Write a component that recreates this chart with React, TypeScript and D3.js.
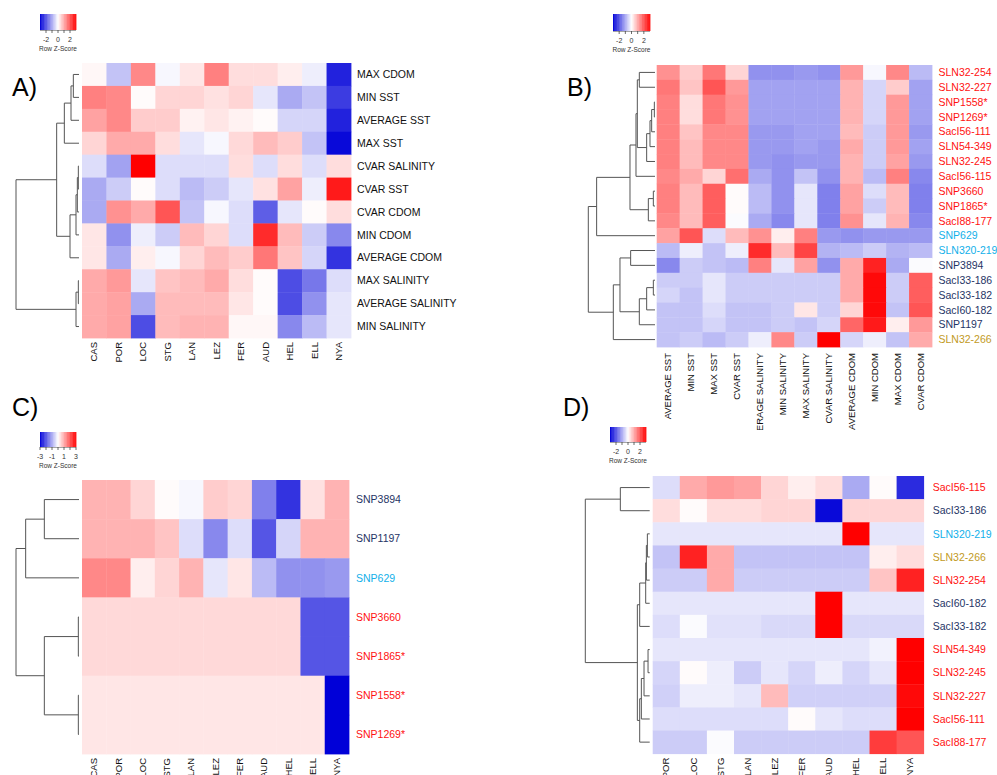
import React from "react";
import * as d3 from "d3";

const FONT = "'Liberation Sans', Arial, Helvetica, sans-serif";

// ---------- Panel A ----------
const colsA = ["CAS", "POR", "LOC", "STG", "LAN", "LEZ", "FER", "AUD", "HEL", "ELL", "NYA"];
const rowsA = ["MAX CDOM", "MIN SST", "AVERAGE SST", "MAX SST", "CVAR SALINITY", "CVAR SST", "CVAR CDOM", "MIN CDOM", "AVERAGE CDOM", "MAX SALINITY", "AVERAGE SALINITY", "MIN SALINITY"];
const valsA = [
  [0.1, -0.7, 1.4, -0.1, 0.3, 1.5, 0.4, 0.4, 0.2, -0.2, -2.6],
  [1.5, 1.4, 0.05, 0.5, 0.5, 0.35, 0.5, -0.3, -1.0, -0.7, -2.3],
  [1.1, 1.4, 0.6, 0.6, 0.15, 0.3, 0.15, 0.05, -0.5, -0.5, -2.6],
  [0.5, 1.0, 1.0, 0.4, -0.3, -0.1, 0.45, 0.8, 0.6, -0.7, -2.9],
  [-0.4, -1.1, 3.0, -0.4, -0.4, -0.4, 0.4, -0.4, 0.4, -0.4, 0.4],
  [-1.0, -0.6, 0.05, -0.4, -0.8, -0.6, -0.3, 0.35, 1.1, -0.2, 2.7],
  [-1.0, 1.3, 1.0, 2.0, -0.7, -0.1, -0.4, -1.9, -0.3, 0.05, 0.4],
  [0.3, -1.3, -0.2, -0.6, 0.8, 0.5, -0.4, 2.5, 0.8, -0.6, -1.4],
  [0.3, -1.0, 0.2, -0.1, 0.5, 0.8, 0.6, 1.6, 0.7, -0.5, -2.4],
  [1.0, 1.2, -0.3, 0.7, 0.8, 1.0, 0.4, 0.05, -2.1, -1.6, -0.4],
  [1.0, 1.1, -1.0, 0.8, 0.8, 0.8, 0.3, 0.05, -2.1, -1.3, -0.3],
  [1.0, 1.1, -2.1, 0.8, 0.9, 0.9, 0.1, 0.1, -1.4, -0.8, -0.3],
];
const groupsA = ["k", "k", "k", "k", "k", "k", "k", "k", "k", "k", "k", "k"];
const treeA: any = [189, [67, [44, [24, [17, 0, 1], 2], 3], [27, [9, [5, [2, 4, 5], 6], 7], 8]], [9, [2, 9, 10], 11]];

// ---------- Panel B ----------
const colsB = ["AVERAGE SST", "MIN SST", "MAX SST", "CVAR SST", "AVERAGE SALINITY", "MIN SALINITY", "MAX SALINITY", "CVAR SALINITY", "AVERAGE CDOM", "MIN CDOM", "MAX CDOM", "CVAR CDOM"];
const rowsB = ["SLN32-254", "SLN32-227", "SNP1558*", "SNP1269*", "SacI56-111", "SLN54-349", "SLN32-245", "SacI56-115", "SNP3660", "SNP1865*", "SacI88-177", "SNP629", "SLN320-219", "SNP3894", "SacI33-186", "SacI33-182", "SacI60-182", "SNP1197", "SLN32-266"];
const valsB = [
  [1.3, 0.6, 1.6, 0.5, -1.3, -1.3, -1.2, -1.3, 1.2, -0.1, 1.4, -0.8],
  [1.6, 0.7, 2.0, 1.2, -1.1, -1.1, -1.1, -1.1, 0.9, -0.5, 0.6, -1.1],
  [1.5, 0.4, 1.6, 1.3, -1.1, -1.1, -1.1, -1.1, 0.9, -0.5, 1.2, -1.1],
  [1.5, 0.4, 1.6, 1.3, -1.1, -1.1, -1.1, -1.1, 0.9, -0.5, 1.2, -1.1],
  [1.5, 0.7, 1.4, 1.4, -1.2, -1.2, -1.1, -1.1, 0.8, -0.6, 1.2, -1.2],
  [1.5, 0.8, 1.4, 1.4, -1.2, -1.2, -1.1, -1.2, 1.0, -0.6, 1.2, -1.1],
  [1.5, 0.8, 1.4, 1.4, -1.2, -1.3, -1.2, -1.2, 0.9, -0.6, 1.1, -1.2],
  [1.4, 1.0, 0.5, 1.7, -1.0, -1.3, -0.7, -1.3, 0.9, -0.8, 1.5, -1.4],
  [1.5, 0.8, 1.9, 0.05, -0.8, -1.3, -0.3, -1.5, 1.1, -0.4, 0.8, -1.5],
  [1.5, 0.8, 1.9, 0.05, -0.8, -1.3, -0.3, -1.5, 1.1, -0.6, 0.8, -1.5],
  [1.4, 0.8, 1.9, -0.05, -1.0, -1.4, -0.3, -1.5, 1.3, -0.3, 0.9, -1.4],
  [1.1, 2.0, -0.4, 0.8, 1.3, 0.2, 1.5, -1.2, -1.3, -1.2, -1.2, -1.2],
  [-0.8, -0.2, -0.7, -0.2, 2.5, 0.8, 2.2, -0.9, -0.8, -0.6, -0.9, -0.8],
  [-1.4, -0.6, -0.7, -0.8, 1.5, -0.3, 1.1, -1.3, 1.0, 2.6, -1.0, -0.05],
  [-0.6, -0.6, -0.3, -0.6, -0.6, -0.6, -0.6, -0.6, 1.0, 2.9, -0.6, 1.9],
  [-0.5, -0.7, -0.3, -0.6, -0.6, -0.6, -0.6, -0.6, 1.0, 2.9, -0.6, 1.9],
  [-0.7, -0.7, -0.4, -0.7, -0.7, -0.6, 0.3, -0.6, 0.5, 2.9, -0.7, 2.0],
  [-0.7, -0.7, -0.5, -0.7, -0.7, -0.6, -0.7, -0.5, 1.8, 2.7, 0.2, 1.2],
  [-0.7, -0.6, -0.8, -0.6, -0.2, 1.4, -0.6, 3.0, -0.5, -0.2, -0.7, 1.0],
];
const groupsB = ["r", "r", "r", "r", "r", "r", "r", "r", "r", "r", "r", "s", "s", "n", "n", "n", "n", "n", "g"];
const treeB: any = [200,
  [175, [75, [57, [53, [47, 0, 1], [25, [15, [10, [2, 2, 3], 4], 5], 6]], 7], [20, [5, 8, 9], 10]], 11],
  [125, [105, [73, 12, 13], [47, [25, [5, 14, 15], 16], 17]], 18]];

// ---------- Panel C ----------
const colsC = ["CAS", "POR", "LOC", "STG", "LAN", "LEZ", "FER", "AUD", "HEL", "ELL", "NYA"];
const rowsC = ["SNP3894", "SNP1197", "SNP629", "SNP3660", "SNP1865*", "SNP1558*", "SNP1269*"];
const valsC = [
  [0.9, 0.9, 0.5, 0.05, -0.1, 0.6, 0.5, -1.5, -2.4, 0.35, 0.9],
  [0.9, 0.9, 0.9, 0.7, -0.4, -1.4, -0.4, -2.0, -0.5, 0.9, 0.9],
  [1.4, 1.4, 0.2, 0.5, 0.9, -0.3, 0.3, -0.8, -1.3, -1.3, -1.2],
  [0.45, 0.45, 0.45, 0.45, 0.45, 0.45, 0.45, 0.45, 0.45, -2.0, -2.0],
  [0.45, 0.45, 0.45, 0.45, 0.45, 0.45, 0.45, 0.45, 0.45, -2.0, -2.0],
  [0.3, 0.3, 0.3, 0.3, 0.3, 0.3, 0.3, 0.3, 0.3, 0.3, -3.0],
  [0.3, 0.3, 0.3, 0.3, 0.3, 0.3, 0.3, 0.3, 0.3, 0.3, -3.0],
];
const groupsC = ["n", "n", "s", "r", "r", "r", "r"];
const treeC: any = [189, [160, [104, 0, 1], 2], [104, [2, 3, 4], [2, 5, 6]]];

// ---------- Panel D ----------
const colsD = ["POR", "LOC", "STG", "LAN", "LEZ", "FER", "AUD", "HEL", "ELL", "NYA"];
const rowsD = ["SacI56-115", "SacI33-186", "SLN320-219", "SLN32-266", "SLN32-254", "SacI60-182", "SacI33-182", "SLN54-349", "SLN32-245", "SLN32-227", "SacI56-111", "SacI88-177"];
const valsD = [
  [-0.4, 1.0, 1.2, 1.1, 0.5, 0.2, 0.4, -1.0, 0.05, -2.5],
  [0.4, 0.05, 0.4, 0.4, 0.5, 0.5, -2.9, 0.5, 0.5, 0.5],
  [-0.3, -0.3, -0.3, -0.3, -0.3, -0.3, -0.3, 3.0, -0.3, -0.3],
  [-0.7, 2.6, 1.0, -0.7, -0.7, -0.7, -0.7, -0.7, 0.2, 0.4],
  [-0.6, -0.6, 1.0, -0.6, -0.6, -0.6, -0.6, -0.6, 0.7, 2.6],
  [-0.3, -0.3, -0.3, -0.3, -0.3, -0.3, 3.0, -0.3, -0.3, -0.3],
  [-0.4, -0.05, -0.35, -0.35, -0.45, -0.45, 3.0, -0.45, -0.45, -0.45],
  [-0.3, -0.3, -0.3, -0.3, -0.3, -0.3, -0.3, -0.3, -0.15, 3.0],
  [-0.5, 0.05, -0.2, -0.6, -0.3, -0.5, -0.2, -0.5, -0.3, 3.0],
  [-0.55, -0.2, -0.2, -0.3, 0.8, -0.55, -0.55, -0.55, -0.55, 2.9],
  [-0.4, -0.4, -0.4, -0.4, -0.4, 0.05, -0.3, -0.4, -0.4, 3.0],
  [-0.6, -0.6, -0.05, -0.6, -0.6, -0.6, -0.6, -0.6, 2.3, 2.0],
];
const groupsD = ["r", "n", "s", "g", "r", "n", "n", "r", "r", "r", "r", "r"];
const treeD: any = [193, [88, 0, 1], [37, [30, [12, [10, [7, 2, 3], 4], 5], 6], [30, [25, [17, [5, 7, 8], 9], 10], 11]]];

// ---------- Legend ticks ----------
const keyTicks5 = [-2, -1, 0, 1, 2];
const keyLabels5 = [-2, 0, 2];
const keyTicks7 = [-3, -2, -1, 0, 1, 2, 3];
const keyLabels7 = [-3, -1, 1, 3];

const labelColor: Record<string, string> = {
  k: "#111111",
  r: "#ff1111",
  s: "#12b0ea",
  n: "#1f3566",
  g: "#c29a1e",
};

const color = d3
  .scaleLinear<string>()
  .domain([-3, 0, 3])
  .range(["#0000d8", "#ffffff", "#ff0000"])
  .clamp(true);

type Layout = {
  x0: number; x1: number; y0: number; y1: number;
  rootX: number; leafX: number;
  labelGap: number; colGap: number;
  rowFont: number; colFont: number;
  key: { x: number; y: number; w: number; h: number; ticks: number[]; labels: number[] };
  tag: string; tagX: number; tagY: number;
  clipBottom?: number;
};

function Dendro({ tree, yPos, rootH, rootX, leafX }: any) {
  const h = d3.scaleLinear().domain([0, rootH]).range([leafX, rootX]);
  const p = d3.path();
  const walk = (node: any): { x: number; y: number } => {
    if (typeof node === "number") return { x: h(0), y: yPos(node) };
    const [ht, a, b] = node;
    const A = walk(a);
    const B = walk(b);
    const x = h(ht);
    p.moveTo(A.x, A.y);
    p.lineTo(x, A.y);
    p.lineTo(x, B.y);
    p.lineTo(B.x, B.y);
    return { x, y: (A.y + B.y) / 2 };
  };
  walk(tree);
  return <path d={p.toString()} fill="none" stroke="#555" strokeWidth={1} />;
}

function Key({ k }: any) {
  const sx = d3.scaleLinear().domain([-3, 3]).range([k.x, k.x + k.w]);
  const steps = d3.range(-3, 3, 6 / 60);
  return (
    <g>
      {steps.map((v, i) => (
        <rect key={i} x={sx(v)} y={k.y} width={k.w / 60 + 0.4} height={k.h} fill={color(v + 0.05)} />
      ))}
      <line x1={k.x} x2={k.x + k.w} y1={k.y + k.h + 0.5} y2={k.y + k.h + 0.5} stroke="#666" strokeWidth={0.6} />
      {k.ticks.map((t: number) => (
        <line key={t} x1={sx(t)} x2={sx(t)} y1={k.y + k.h} y2={k.y + k.h + 3} stroke="#444" strokeWidth={0.8} />
      ))}
      {k.labels.map((t: number) => (
        <text key={t} x={sx(t)} y={k.y + k.h + 12} fontSize={7} textAnchor="middle" fill="#333" fontFamily={FONT}>
          {t}
        </text>
      ))}
      <text x={k.x + k.w / 2} y={k.y + k.h + 21} fontSize={6.5} textAnchor="middle" fill="#333" fontFamily={FONT}>
        Row Z-Score
      </text>
    </g>
  );
}

function Heatmap({ id, cols, rows, vals, groups, tree, L }: any) {
  const xs = d3.scaleBand<string>().domain(cols).range([L.x0, L.x1]);
  const ys = d3.scaleBand<number>().domain(d3.range(rows.length)).range([L.y0, L.y1]);
  const bw = xs.bandwidth();
  const bh = ys.bandwidth();
  const yPos = (i: number) => (ys(i) as number) + bh / 2;
  return (
    <g>
      <text x={L.tagX} y={L.tagY} fontSize={25} fontFamily={FONT} fill="#000">{L.tag}</text>
      <Key k={L.key} />
      <Dendro tree={tree} yPos={yPos} rootH={tree[0]} rootX={L.rootX} leafX={L.leafX} />
      {vals.map((row: number[], i: number) =>
        row.map((v: number, j: number) => (
          <rect key={`${i}-${j}`} x={xs(cols[j])} y={ys(i)} width={bw + 0.4} height={bh + 0.4} fill={color(v)} />
        ))
      )}
      {rows.map((r: string, i: number) => (
        <text key={r} x={L.x1 + L.labelGap} y={yPos(i)} dy="0.35em" fontSize={L.rowFont} fontFamily={FONT} fill={labelColor[groups[i]]}>
          {r}
        </text>
      ))}
      <defs>
        <clipPath id={`clip-${id}`}>
          <rect x={0} y={0} width={997} height={L.clipBottom ?? 775} />
        </clipPath>
      </defs>
      <g clipPath={`url(#clip-${id})`}>
        {cols.map((c: string) => {
          const cx = (xs(c) as number) + bw / 2 + 3.2;
          const cy = L.y1 + L.colGap;
          return (
            <text key={c} transform={`translate(${cx},${cy}) rotate(-90)`} textAnchor="end" fontSize={L.colFont} fontFamily={FONT} fill="#111">
              {c}
            </text>
          );
        })}
      </g>
    </g>
  );
}

const layoutA: Layout = {
  x0: 82, x1: 351, y0: 63, y1: 338, rootX: 16, leafX: 79, labelGap: 6, colGap: 4,
  rowFont: 10.5, colFont: 9.5,
  key: { x: 40, y: 14, w: 36, h: 16, ticks: keyTicks5, labels: keyLabels5 },
  tag: "A)", tagX: 12, tagY: 96,
};
const layoutB: Layout = {
  x0: 656.7, x1: 932, y0: 65, y1: 347, rootX: 588.3, leafX: 655, labelGap: 6.5, colGap: 6,
  rowFont: 10.5, colFont: 9.5,
  key: { x: 613, y: 14, w: 37, h: 17, ticks: keyTicks5, labels: keyLabels5 },
  tag: "B)", tagX: 567, tagY: 96, clipBottom: 430,
};
const layoutC: Layout = {
  x0: 82, x1: 349, y0: 480, y1: 754, rootX: 16, leafX: 79, labelGap: 7, colGap: 4,
  rowFont: 10.5, colFont: 9.5,
  key: { x: 40, y: 432, w: 36, h: 15, ticks: keyTicks7, labels: keyLabels7 },
  tag: "C)", tagX: 12, tagY: 416,
};
const layoutD: Layout = {
  x0: 652.7, x1: 923.7, y0: 476, y1: 753.7, rootX: 585.3, leafX: 649.7, labelGap: 9, colGap: 4,
  rowFont: 10.5, colFont: 9.5,
  key: { x: 610, y: 427, w: 36, h: 15, ticks: keyTicks5, labels: keyLabels5 },
  tag: "D)", tagX: 563, tagY: 416,
};

export default function App() {
  return (
    <svg
      width={997}
      height={775}
      style={{ position: "absolute", left: 0, top: 0, background: "#fff" }}
      fontFamily={FONT}
    >
      <rect x={0} y={0} width={997} height={775} fill="#fff" />
      <Heatmap id="A" cols={colsA} rows={rowsA} vals={valsA} groups={groupsA} tree={treeA} L={layoutA} />
      <Heatmap id="B" cols={colsB} rows={rowsB} vals={valsB} groups={groupsB} tree={treeB} L={layoutB} />
      <Heatmap id="C" cols={colsC} rows={rowsC} vals={valsC} groups={groupsC} tree={treeC} L={layoutC} />
      <Heatmap id="D" cols={colsD} rows={rowsD} vals={valsD} groups={groupsD} tree={treeD} L={layoutD} />
    </svg>
  );
}
